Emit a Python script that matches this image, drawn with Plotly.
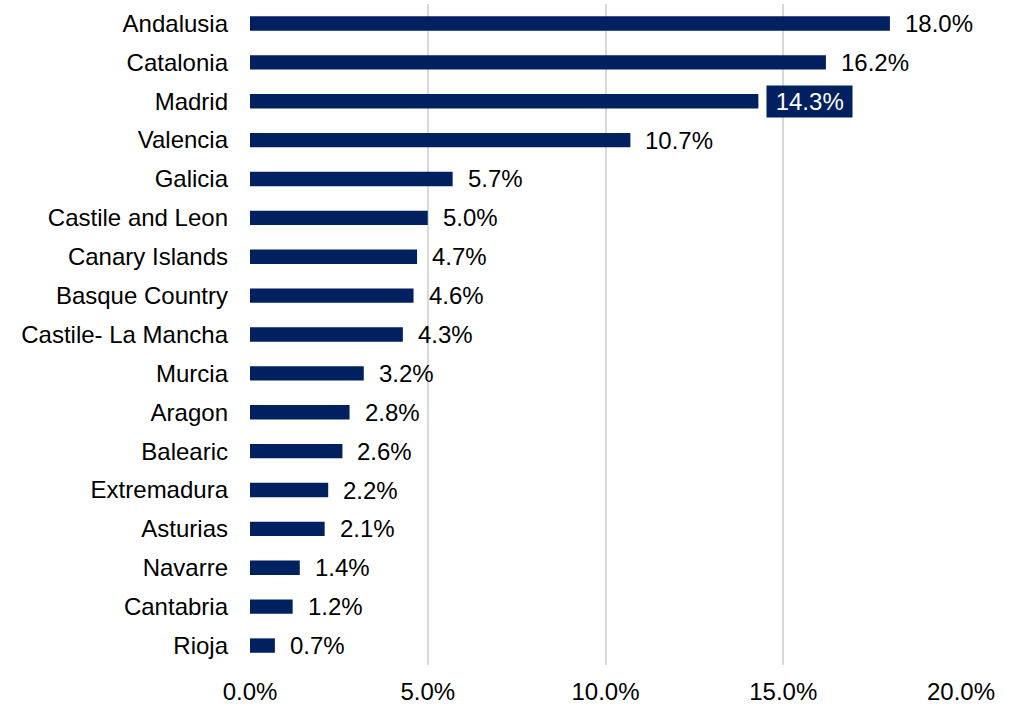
import plotly.graph_objects as go

regions = ["Andalusia", "Catalonia", "Madrid", "Valencia", "Galicia", "Castile and Leon",
           "Canary Islands", "Basque Country", "Castile- La Mancha", "Murcia", "Aragon",
           "Balearic", "Extremadura", "Asturias", "Navarre", "Cantabria", "Rioja"]
shares = [18.0, 16.2, 14.3, 10.7, 5.7, 5.0, 4.7, 4.6, 4.3, 3.2, 2.8, 2.6, 2.2, 2.1, 1.4, 1.2, 0.7]
highlight = "Madrid"

NAVY = "#002060"
FONT = "Liberation Sans, Arial, sans-serif"
SIZE = 24

fig = go.Figure(go.Bar(
    x=shares, y=regions, orientation="h",
    marker=dict(color=NAVY, line=dict(width=0)),
    hoverinfo="x+y",
))

for r, v in zip(regions, shares):
    if r == highlight:
        fig.add_annotation(x=v, y=r, text=f" {v:.1f}% ", showarrow=False,
                           xanchor="left", xshift=8, bgcolor=NAVY, borderpad=2,
                           font=dict(color="white", size=SIZE, family=FONT))
    else:
        fig.add_annotation(x=v, y=r, text=f"{v:.1f}%", showarrow=False,
                           xanchor="left", xshift=13,
                           font=dict(color="black", size=SIZE, family=FONT))

fig.update_layout(
    width=1017, height=704,
    plot_bgcolor="white", paper_bgcolor="white",
    margin=dict(l=250, r=56, t=4, b=39),
    bargap=0.63,
    showlegend=False,
    font=dict(family=FONT, size=SIZE, color="black"),
    xaxis=dict(range=[0, 20], dtick=5, tickformat=".1f", ticksuffix="%",
               showgrid=True, gridcolor="#d9d9d9", gridwidth=2,
               zeroline=False, showline=False, ticks="", ticklabelstandoff=10,
               automargin=False, fixedrange=True),
    yaxis=dict(autorange="reversed", showgrid=False, zeroline=False,
               showline=False, ticks="", ticklabelstandoff=21,
               automargin=False),
)

fig.write_html("out.html", config={"displayModeBar": False},
               post_script="document.body.style.margin='0';")
